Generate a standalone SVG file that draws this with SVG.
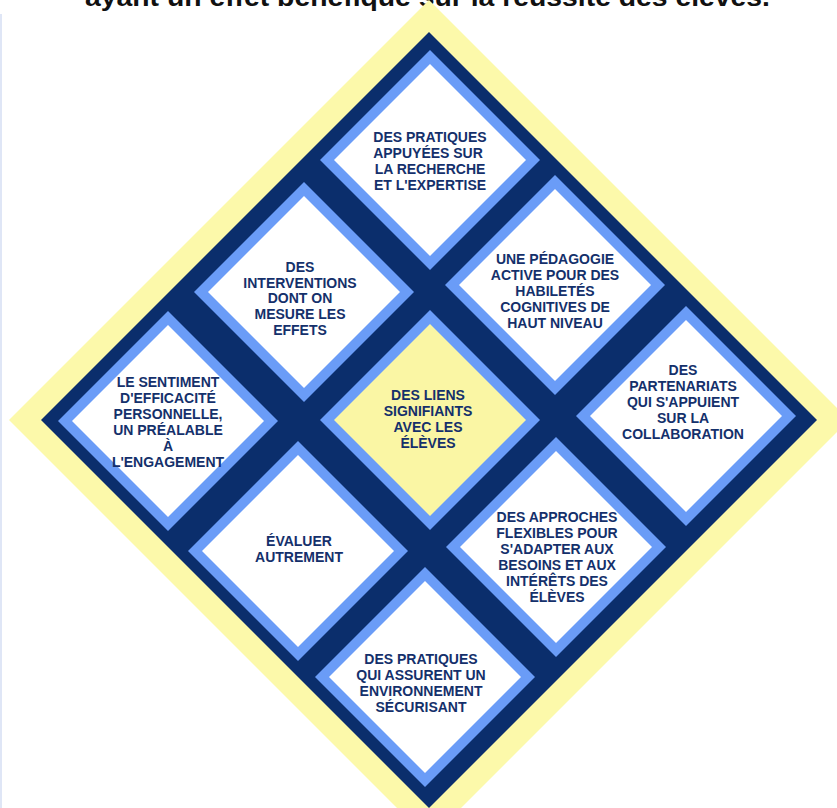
<svg xmlns="http://www.w3.org/2000/svg" width="837" height="808" viewBox="0 0 837 808">
<style>
.lbl{font-family:"Liberation Sans",Arial,sans-serif;font-weight:bold;font-size:14px;fill:#14306b;text-anchor:middle}
.ttl{font-family:"Liberation Sans",Arial,sans-serif;font-weight:bold;font-size:26px;fill:#111}
.blue{fill:#6a9cf7}
.white{fill:#ffffff}
.cen{fill:#faf6a4}
</style>
<defs>
<polygon id="bd" points="0,-110 110,0 0,110 -110,0" class="blue"/>
<polygon id="wd" points="0,-96 96,0 0,96 -96,0" class="white"/>
<polygon id="yd" points="0,-96 96,0 0,96 -96,0" class="cen"/>
</defs>
<rect x="0" y="0" width="837" height="808" fill="#ffffff"/>
<line x1="1" y1="14" x2="1" y2="808" stroke="#dfe6f6" stroke-width="2"/>
<text class="ttl" x="85" y="6" textLength="685" lengthAdjust="spacingAndGlyphs">ayant un effet bénéfique sur la réussite des élèves.</text>
<polygon points="429,0 849,420 429,840 9,420" fill="#fcf9aa"/>
<polygon points="429,32 817,420 429,808 41,420" fill="#0b2e6c"/>
<g id="connectors"></g>
<g id="n-top" transform="translate(430,160)"><use href="#bd"/><use href="#wd"/></g>
<g id="n-top-text" class="lbl"><text x="430" y="142">DES PRATIQUES</text><text x="428" y="158">APPUYÉES SUR</text><text x="430" y="174">LA RECHERCHE</text><text x="430" y="190">ET L'EXPERTISE</text></g>
<g id="n-ul" transform="translate(304,292)"><use href="#bd"/><use href="#wd"/></g>
<g id="n-ul-text" class="lbl"><text x="300" y="272">DES</text><text x="300" y="288">INTERVENTIONS</text><text x="300" y="303">DONT ON</text><text x="300" y="319">MESURE LES</text><text x="300" y="335">EFFETS</text></g>
<g id="n-ur" transform="translate(555,285)"><use href="#bd"/><use href="#wd"/></g>
<g id="n-ur-text" class="lbl"><text x="555" y="264">UNE PÉDAGOGIE</text><text x="555" y="280">ACTIVE POUR DES</text><text x="555" y="296">HABILETÉS</text><text x="555" y="312">COGNITIVES DE</text><text x="555" y="328">HAUT NIVEAU</text></g>
<g id="n-l" transform="translate(168,421)"><use href="#bd"/><use href="#wd"/></g>
<g id="n-l-text" class="lbl"><text x="168" y="387">LE SENTIMENT</text><text x="168" y="403">D'EFFICACITÉ</text><text x="168" y="419">PERSONNELLE,</text><text x="168" y="435">UN PRÉALABLE</text><text x="168" y="451">À</text><text x="168" y="467">L'ENGAGEMENT</text></g>
<g id="n-c" transform="translate(430,420)"><use href="#bd"/><use href="#yd"/></g>
<g id="n-c-text" class="lbl"><text x="428" y="400">DES LIENS</text><text x="428" y="416">SIGNIFIANTS</text><text x="428" y="432">AVEC LES</text><text x="428" y="448">ÉLÈVES</text></g>
<g id="n-r" transform="translate(686,416)"><use href="#bd"/><use href="#wd"/></g>
<g id="n-r-text" class="lbl"><text x="683" y="375">DES</text><text x="683" y="391">PARTENARIATS</text><text x="683" y="407">QUI S'APPUIENT</text><text x="683" y="423">SUR LA</text><text x="683" y="439">COLLABORATION</text></g>
<g id="n-ll" transform="translate(298,551)"><use href="#bd"/><use href="#wd"/></g>
<g id="n-ll-text" class="lbl"><text x="299" y="546">ÉVALUER</text><text x="299" y="562">AUTREMENT</text></g>
<g id="n-lr" transform="translate(556,547)"><use href="#bd"/><use href="#wd"/></g>
<g id="n-lr-text" class="lbl"><text x="557" y="522">DES APPROCHES</text><text x="557" y="538">FLEXIBLES POUR</text><text x="557" y="554">S'ADAPTER AUX</text><text x="557" y="570">BESOINS ET AUX</text><text x="557" y="586">INTÉRÊTS DES</text><text x="557" y="602">ÉLÈVES</text></g>
<g id="n-b" transform="translate(425,677)"><use href="#bd"/><use href="#wd"/></g>
<g id="n-b-text" class="lbl"><text x="421" y="664">DES PRATIQUES</text><text x="421" y="680">QUI ASSURENT UN</text><text x="421" y="696">ENVIRONNEMENT</text><text x="421" y="712">SÉCURISANT</text></g>
</svg>
